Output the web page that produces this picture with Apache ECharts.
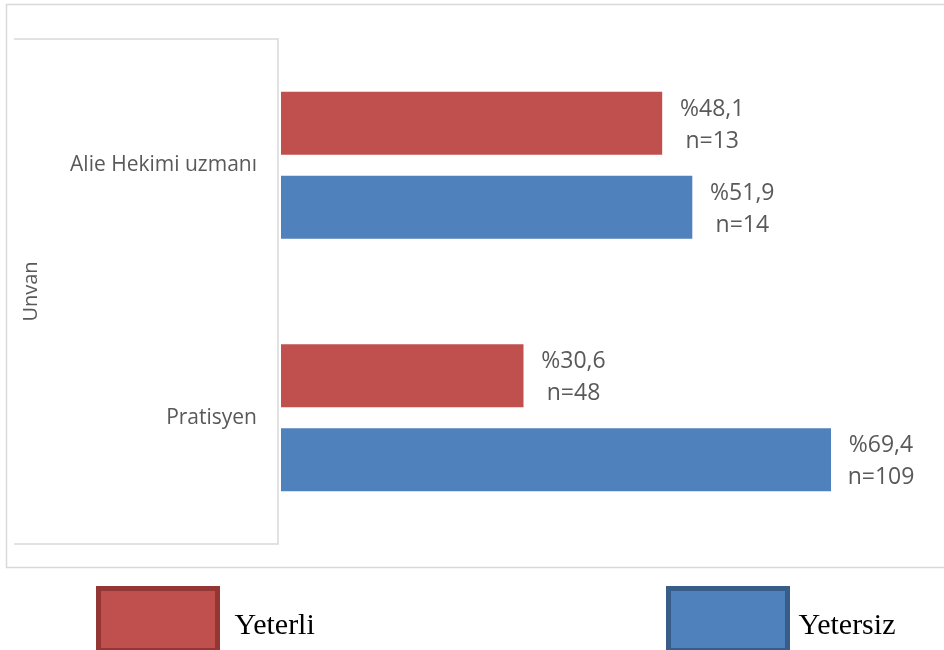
<!DOCTYPE html>
<html lang="tr">
<head>
    <meta charset="UTF-8">
    <title>Unvan</title>
    <style>
        html, body { margin: 0; padding: 0; background: #fff; }
    </style>
</head>
<body>
<div id="container" style="width:944px;height:650px"></div>
<script type="text/javascript" src="https://cdn.jsdelivr.net/npm/echarts@6/dist/echarts.min.js"></script>
<script type="text/javascript">
    // veriler
    var categories = ['Alie Hekimi uzmanı', 'Pratisyen'];
    var yeterliPct = [48.1, 30.6];
    var yeterliN = [13, 48];
    var yetersizPct = [51.9, 69.4];
    var yetersizN = [14, 109];

    var dom = document.getElementById('container');
    var myChart = echarts.init(dom, null, { renderer: 'canvas' });

    function makeData(pct, n) {
        return pct.map(function (v, i) {
            return { value: v, n: n[i] };
        });
    }

    function labelFmt(p) {
        return '%' + String(p.value).replace('.', ',') + '\nn=' + p.data.n;
    }

    var labelStyle = {
        show: true,
        position: 'right',
        distance: 50,
        align: 'center',
        offset: [0, 2],
        color: '#595959',
        fontFamily: 'Open Sans',
        fontSize: 23,
        lineHeight: 32,
        formatter: labelFmt
    };

    var option = {
        animation: false,
        backgroundColor: '#fff',
        grid: {
            left: 281,
            top: 39,
            width: 634,
            height: 505
        },
        xAxis: {
            type: 'value',
            min: 0,
            max: 80,
            show: false
        },
        yAxis: {
            type: 'category',
            data: categories,
            inverse: true,
            name: 'Unvan',
            nameLocation: 'middle',
            nameRotate: 90,
            nameGap: 240,
            nameTextStyle: { color: '#595959', fontFamily: 'Open Sans', fontSize: 20 },
            axisLine: { show: false },
            axisTick: { show: false },
            axisLabel: {
                margin: 24,
                color: '#595959',
                fontFamily: 'Open Sans',
                fontSize: 21
            },
            splitLine: { show: false }
        },
        legend: [
            {
                data: ['Yeterli'],
                left: 96,
                top: 586,
                padding: 0,
                icon: 'rect',
                itemWidth: 119,
                itemHeight: 62,
                itemStyle: { borderColor: '#943634', borderWidth: 5 },
                formatter: '{t|{name}}',
                textStyle: {
                    rich: {
                        t: { color: '#000', fontFamily: 'Liberation Serif', fontSize: 30, padding: [14, 0, 0, 12] }
                    }
                }
            },
            {
                data: ['Yetersiz'],
                left: 666,
                top: 586,
                padding: 0,
                icon: 'rect',
                itemWidth: 119,
                itemHeight: 62,
                itemStyle: { borderColor: '#385D8A', borderWidth: 5 },
                formatter: '{t|{name}}',
                textStyle: {
                    rich: {
                        t: { color: '#000', fontFamily: 'Liberation Serif', fontSize: 30, padding: [14, 0, 0, 6] }
                    }
                }
            }
        ],
        graphic: [
            {
                type: 'rect',
                shape: { x: 6.5, y: 4.5, width: 945, height: 563 },
                style: { fill: null, stroke: '#D9D9D9', lineWidth: 1.5 },
                z: -1
            },
            {
                type: 'polyline',
                shape: { points: [[14, 39], [278, 39], [278, 544], [14, 544]] },
                style: { fill: null, stroke: '#D9D9D9', lineWidth: 1.5 },
                z: -1
            }
        ],
        series: [
            {
                name: 'Yeterli',
                type: 'bar',
                barWidth: 63,
                barGap: '33%',
                data: makeData(yeterliPct, yeterliN),
                itemStyle: { color: '#C0504D' },
                label: labelStyle
            },
            {
                name: 'Yetersiz',
                type: 'bar',
                barWidth: 63,
                barGap: '33%',
                data: makeData(yetersizPct, yetersizN),
                itemStyle: { color: '#4F81BD' },
                label: labelStyle
            }
        ]
    };

    myChart.setOption(option);
    window.addEventListener('resize', myChart.resize);
</script>
</body>
</html>
